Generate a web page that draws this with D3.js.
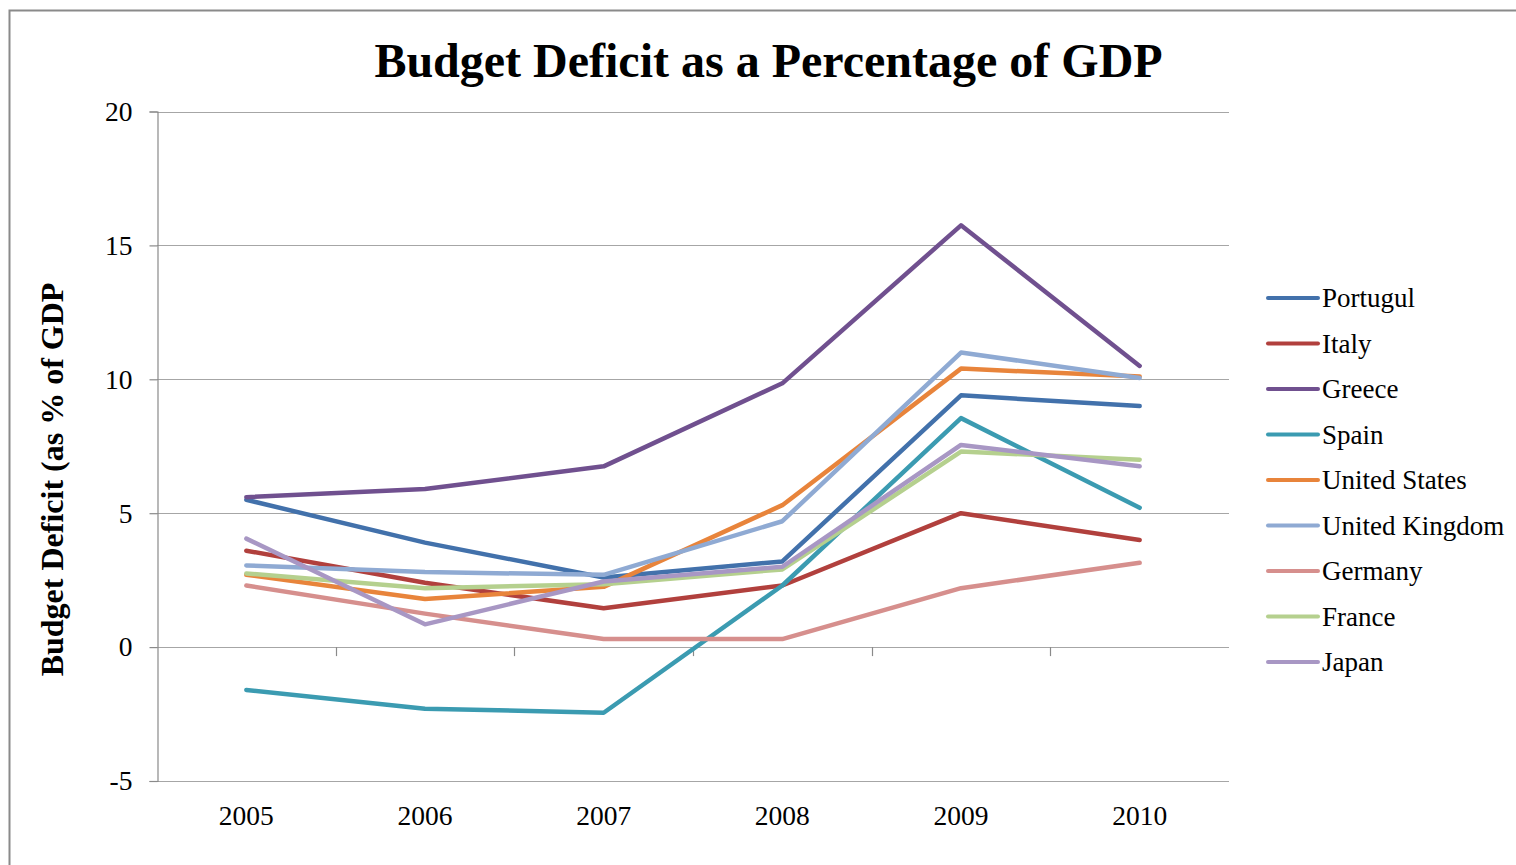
<!DOCTYPE html>
<html>
<head>
<meta charset="utf-8">
<script src="https://cdn.jsdelivr.net/npm/d3@7"></script>
<style>
  html, body { margin: 0; padding: 0; background: #fff; }
  svg { display: block; }
  text { font-family: "Liberation Serif", "Times New Roman", serif; fill: #000; }
</style>
</head>
<body>
<svg id="chart" width="1516" height="865"></svg>
<script>
// Budget deficit (% of GDP), 2005–2010
const years = ["2005", "2006", "2007", "2008", "2009", "2010"];
const countries = ["Portugul", "Italy", "Greece", "Spain", "United States", "United Kingdom", "Germany", "France", "Japan"];
const portugal = [5.5, 3.9, 2.6, 3.2, 9.4, 9.0];
const italy = [3.6, 2.4, 1.45, 2.3, 5.0, 4.0];
const greece = [5.6, 5.9, 6.75, 9.85, 15.75, 10.5];
const spain = [-1.6, -2.3, -2.45, 2.3, 8.55, 5.2];
const unitedStates = [2.7, 1.8, 2.25, 5.3, 10.4, 10.1];
const unitedKingdom = [3.05, 2.8, 2.7, 4.7, 11.0, 10.05];
const germany = [2.3, 1.25, 0.3, 0.3, 2.2, 3.15];
const france = [2.75, 2.2, 2.35, 2.9, 7.3, 7.0];
const japan = [4.05, 0.85, 2.45, 3.0, 7.55, 6.75];
const yTicks = [-5, 0, 5, 10, 15, 20];
const colors = ["#4271ab", "#b1403d", "#70508f", "#3b9bb1", "#e8843b", "#8faad3", "#d68f8d", "#b5d08e", "#a897c4"];

const seriesValues = [portugal, italy, greece, spain, unitedStates, unitedKingdom, germany, france, japan];
const series = countries.map((name, i) => ({ name, values: seriesValues[i], color: colors[i] }));

const svg = d3.select("#chart");
const plot = { left: 157, right: 1229, top: 111.5, bottom: 781 };

// outer chart frame
svg.append("rect")
  .attr("x", 9.5).attr("y", 10.5)
  .attr("width", 1530).attr("height", 900)
  .attr("fill", "none").attr("stroke", "#8a8a8a").attr("stroke-width", 2);

const x = d3.scalePoint().domain(years).range([plot.left, plot.right]).padding(0.5);
const xBand = d3.scaleBand().domain(years).range([plot.left, plot.right]).paddingInner(0).paddingOuter(0);
const y = d3.scaleLinear().domain([-5, 20]).range([plot.bottom, plot.top]);

// horizontal gridlines
svg.append("g")
  .selectAll("line")
  .data(yTicks)
  .join("line")
  .attr("x1", plot.left).attr("x2", plot.right)
  .attr("y1", d => Math.round(y(d)) + 0.5).attr("y2", d => Math.round(y(d)) + 0.5)
  .attr("stroke", "#a6a6a6").attr("stroke-width", 1.2);

// y axis
const yAxis = svg.append("g")
  .attr("transform", `translate(${plot.left + 0.5},0)`)
  .call(d3.axisLeft(y).tickValues(yTicks).tickSize(8).tickPadding(17).tickFormat(d => String(d)));
yAxis.select(".domain").attr("stroke", "#8a8a8a").attr("stroke-width", 1.2);
yAxis.selectAll(".tick line").attr("stroke", "#8a8a8a").attr("stroke-width", 1.2);
yAxis.selectAll(".tick text")
  .style("font-family", "'Liberation Serif', 'Times New Roman', serif")
  .style("font-size", "27.5px").attr("fill", "#000");

// x axis crossing at zero, tick marks between categories
const boundaries = years.slice(1).map(d => xBand(d));
svg.append("g")
  .selectAll("line")
  .data(boundaries)
  .join("line")
  .attr("x1", d => Math.round(d) + 0.5).attr("x2", d => Math.round(d) + 0.5)
  .attr("y1", y(0)).attr("y2", y(0) + 9)
  .attr("stroke", "#8a8a8a").attr("stroke-width", 1.2);

// category labels along the bottom
svg.append("g")
  .selectAll("text")
  .data(years)
  .join("text")
  .attr("x", d => x(d))
  .attr("y", plot.bottom + 44)
  .attr("text-anchor", "middle")
  .style("font-size", "27.5px")
  .text(d => d);

// series lines
const line = d3.line()
  .x((d, i) => x(years[i]))
  .y(d => y(d));

svg.append("g")
  .selectAll("path")
  .data(series)
  .join("path")
  .attr("d", d => line(d.values))
  .attr("fill", "none")
  .attr("stroke", d => d.color)
  .attr("stroke-width", 4.5)
  .attr("stroke-linejoin", "round")
  .attr("stroke-linecap", "round");

// title
svg.append("text")
  .attr("x", 768.5).attr("y", 77)
  .attr("text-anchor", "middle")
  .style("font-size", "48px").style("font-weight", "bold")
  .text("Budget Deficit as a Percentage of GDP");

// y axis title
svg.append("text")
  .attr("transform", "translate(63,479.5) rotate(-90)")
  .attr("text-anchor", "middle")
  .style("font-size", "32px").style("font-weight", "bold")
  .text("Budget Deficit (as % of GDP");

// legend
const legend = svg.append("g");
const legendRow = d3.scalePoint().domain(countries).range([298, 662]);
const item = legend.selectAll("g")
  .data(series)
  .join("g")
  .attr("transform", d => `translate(0,${legendRow(d.name)})`);
item.append("line")
  .attr("x1", 1268).attr("x2", 1318)
  .attr("y1", 0).attr("y2", 0)
  .attr("stroke", d => d.color)
  .attr("stroke-width", 4)
  .attr("stroke-linecap", "round");
item.append("text")
  .attr("x", 1322).attr("y", 0)
  .attr("dy", "0.35em")
  .style("font-size", "27px")
  .text(d => d.name);
</script>
</body>
</html>
